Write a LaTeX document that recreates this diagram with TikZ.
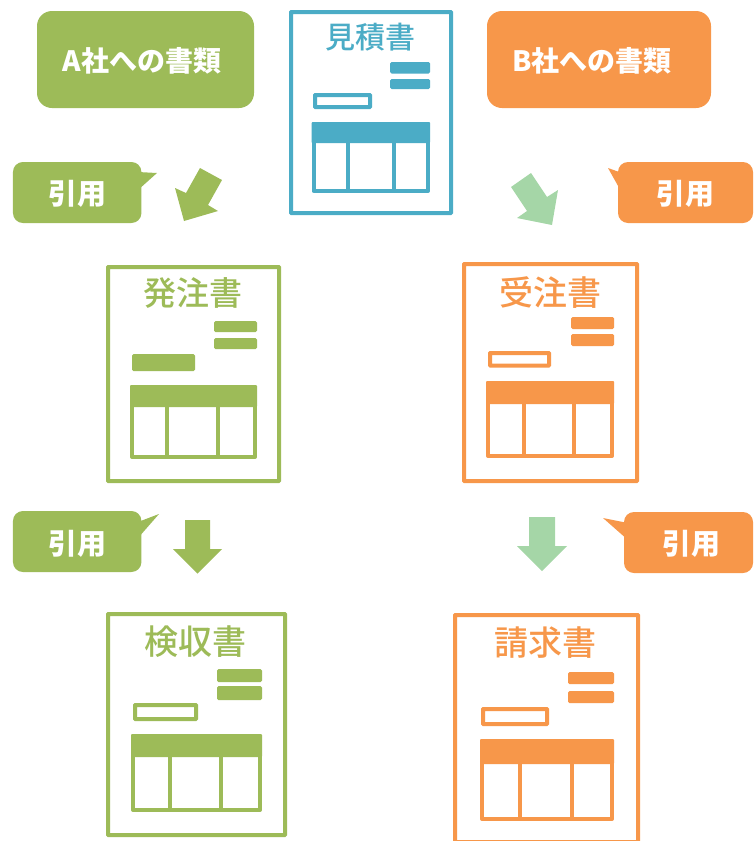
\documentclass[tikz,border=0pt]{standalone}
\usepackage{fontspec}
\setmainfont{Noto Sans CJK JP}
\newfontfamily\titlefont{Noto Sans CJK JP Medium}
\definecolor{cgreen}{HTML}{9DBB58}
\definecolor{corange}{HTML}{F7974A}
\definecolor{cteal}{HTML}{4BACC6}
\definecolor{clight}{HTML}{A5D6A7}
\tikzset{
  frame/.style={draw=#1,line width=4pt,rounded corners=0.5pt,fill=white},
  bar/.style={fill=#1,rounded corners=1.5pt},
  outl/.style={draw=#1,line width=4pt,rounded corners=0.5pt,fill=white},
  tbl/.style={draw=#1,line width=4pt,line join=round},
  head/.style={fill=#1,rounded corners=1pt},
  doctitle/.style={text=#1,inner sep=0pt},
  bigbox/.style={fill=#1,rounded corners=15pt,inner sep=0pt},
  bigtext/.style={text=white,font=\bfseries\fontsize{28}{28}\selectfont,inner sep=0pt},
  callout/.style={fill=#1,rounded corners=10pt,inner sep=0pt},
  calltext/.style={text=white,font=\bfseries\fontsize{29}{29}\selectfont,inner sep=0pt},
}
\newcommand{\tabledoc}[7]{% colour, x0,y0,x1,y1, header bottom, column list
  \fill[head=#1] (#2-2,#3-2) rectangle (#4+2,#6);
  \draw[tbl=#1] (#2,#3) rectangle (#4,#5);
  \foreach \c in {#7} \draw[tbl=#1] (\c,#3) -- (\c,#5);
}
\newcommand{\titlesize}[1]{\titlefont\fontsize{#1}{#1}\selectfont}
\begin{document}
\begin{tikzpicture}[x=1pt,y=-1pt]
\useasboundingbox (0,0) rectangle (753,841);
% top boxes
\node[bigbox=cgreen,minimum width=217pt,minimum height=97pt] (boxA) at (145.5,59.5) {};
\node[bigtext] (boxAt) at (142,61) {A社への書類};
\node[bigbox=corange,minimum width=224pt,minimum height=97pt] (boxB) at (599,59.5) {};
\node[bigtext] (boxBt) at (592,61) {B社への書類};
% callouts
\fill[cgreen] (138,172) -- (157,173) -- (138,190) -- cycle;
\node[callout=cgreen,minimum width=128.5pt,minimum height=61pt] (c1) at (77.2,192.5) {};
\node[calltext] (c1t) at (77,194) {引用};
\fill[cgreen] (138,522) -- (159,514) -- (138,538) -- cycle;
\node[callout=cgreen,minimum width=128.5pt,minimum height=61pt] (c2) at (77.2,541.5) {};
\node[calltext] (c2t) at (77,544) {引用};
\fill[corange] (622,173) -- (608,168) -- (622,193) -- cycle;
\node[callout=corange,minimum width=135pt,minimum height=61pt] (c3) at (685.5,192.5) {};
\node[calltext] (c3t) at (685,194) {引用};
\fill[corange] (628,540) -- (603,518) -- (628,523) -- cycle;
\node[callout=corange,minimum width=129pt,minimum height=61pt] (c4) at (688.5,542.5) {};
\node[calltext] (c4t) at (691,544) {引用};
% arrows
\fill[cgreen] (200,168) -- (222,180) -- (208,205) -- (218,211) -- (184,221) -- (175,188) -- (186,193) -- cycle;
\fill[clight] (531,173) -- (511,187) -- (527,211) -- (517,218) -- (552,225) -- (558,190) -- (547,197) -- cycle;
\fill[cgreen] (185,520) -- (210,520) -- (210,549) -- (222,549) -- (197.5,573.5) -- (173,549) -- (185,549) -- cycle;
\fill[clight] (529,517) -- (555,517) -- (555,546) -- (567,546) -- (542,571) -- (517,546) -- (529,546) -- cycle;
% quote doc
\draw[frame=cteal] (291,12) rectangle (451,213);
\node[doctitle=cteal,font=\titlesize{30}] (t1) at (370.5,37) {見積書};
\fill[bar=cteal] (390,62) rectangle (430,73.5);
\fill[bar=cteal] (390,79) rectangle (430,89);
\draw[outl=cteal] (315,95) rectangle (370,107);
\tabledoc{cteal}{313.5}{124}{428}{191}{143}{347.5,393.5}
% order
\draw[frame=cgreen] (108,267) rectangle (279,481);
\node[doctitle=cgreen,font=\titlesize{33}] (t2) at (193,293) {発注書};
\fill[bar=cgreen] (214,321) rectangle (257,332);
\fill[bar=cgreen] (214,338) rectangle (257,349);
\fill[bar=cgreen] (132,354) rectangle (195,371);
\tabledoc{cgreen}{132}{387}{255}{457}{407}{167,218}
% order received
\draw[frame=corange] (464,264) rectangle (637,481);
\node[doctitle=corange,font=\titlesize{34}] (t3) at (550,293) {受注書};
\fill[bar=corange] (571,317) rectangle (614,329);
\fill[bar=corange] (571,334) rectangle (614,346);
\draw[outl=corange] (490,353) rectangle (549,365.5);
\tabledoc{corange}{488}{383}{612}{456}{404}{524,574}
% inspection
\draw[frame=cgreen] (108,614) rectangle (285,835);
\node[doctitle=cgreen,font=\titlesize{34}] (t4) at (195,642) {検収書};
\fill[bar=cgreen] (217,669) rectangle (262,682);
\fill[bar=cgreen] (217,686) rectangle (262,700);
\draw[outl=cgreen] (135,705) rectangle (196,719);
\tabledoc{cgreen}{133}{736}{260}{810}{757}{170,221}
% invoice
\draw[frame=corange] (455,615) rectangle (638,842);
\node[doctitle=corange,font=\titlesize{34}] (t5) at (545.5,643) {請求書};
\fill[bar=corange] (568,672) rectangle (614,684);
\fill[bar=corange] (568,691) rectangle (614,703);
\draw[outl=corange] (483,709) rectangle (547,724);
\tabledoc{corange}{482}{741}{612}{819}{764}{520,572}
\end{tikzpicture}
\end{document}
